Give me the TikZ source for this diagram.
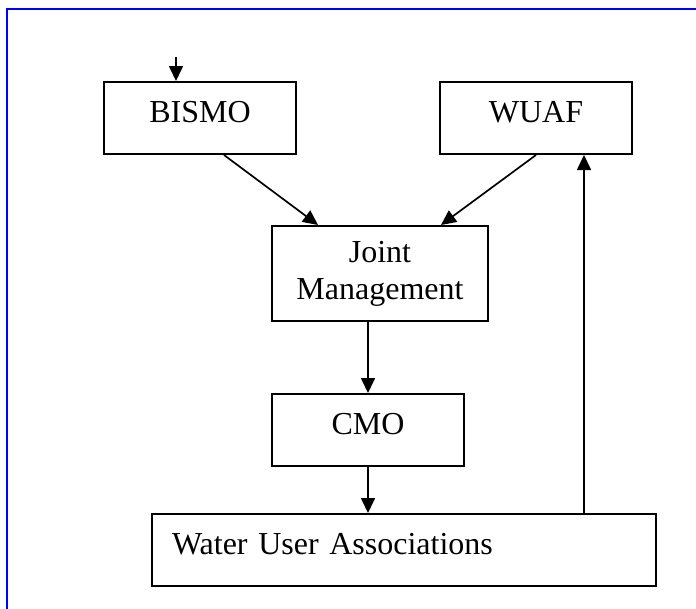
\documentclass[tikz,border=0pt]{standalone}
\usepackage{fontspec}
\setmainfont{Liberation Serif}
\usepackage{xcolor}
\definecolor{frameBlue}{HTML}{0000FF}
\usepackage{tikz}
\usetikzlibrary{arrows.meta, positioning}

\begin{document}
\begin{tikzpicture}[
		x=1pt, y=-1pt,
		box/.style={
			draw,
			line width=2pt,
			minimum width=192pt,
			minimum height=72pt,
			text height=22pt,
			text depth=13pt,
			align=center,
			font=\fontsize{32}{37}\selectfont
		},
		arrow/.style={-{Triangle[length=15pt,width=14pt]}, line width=1.7pt}
		]
		
		\useasboundingbox (0,0) rectangle (696,608);
		\draw[frameBlue, line width=2.7pt] (7,9) rectangle (720,630);
		
		\node[box] (bismo) at (200,118) {BISMO};
		\node[box] (wuaf) at (536,118) {WUAF};
		\node[box, minimum width=216pt, minimum height=95pt, text height=, text depth=] (joint) at (380,273.5) {Joint\\Management};
		\node[box] (cmo) at (368,430) {CMO};
		\node[box, minimum width=504pt, text width=464pt, inner xsep=20pt, align=left] (wua) at (404,550) {Water User Associations};
		
		\coordinate (top) at (176,57);
		\coordinate (back) at ([xshift=48pt]wuaf.south);
		
		\draw[arrow] (top) -- (top |- bismo.north);
		\draw[arrow] ([xshift=24pt]bismo.south) -- ([xshift=-62pt]joint.north);
		\draw[arrow] (wuaf.south) -- ([xshift=61pt]joint.north);
		\draw[arrow] (cmo.north |- joint.south) -- (cmo.north);
		\draw[arrow] (cmo.south) -- (cmo.south |- wua.north);
		\draw[arrow] (back |- wua.north) -- (back);
		
	\end{tikzpicture}
\end{document}
